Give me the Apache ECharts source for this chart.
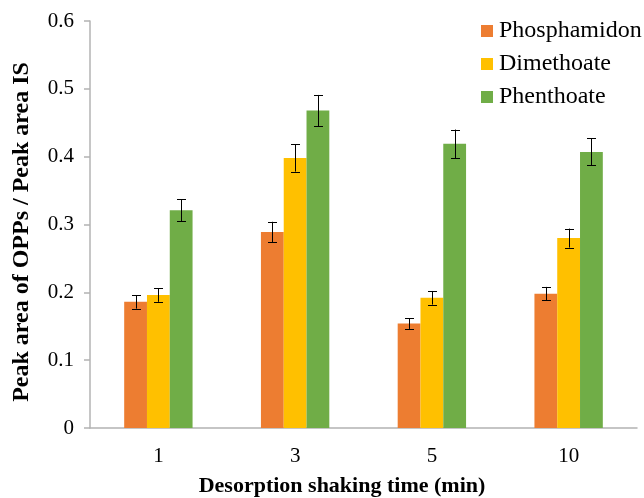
<!DOCTYPE html>
<html>
<head>
<meta charset="utf-8">
<script src="https://cdn.jsdelivr.net/npm/echarts@6/dist/echarts.min.js"></script>
<style>
  html, body { margin: 0; padding: 0; background: #fff; }
  #chart { width: 644px; height: 498px; }
</style>
</head>
<body>
<div id="chart"></div>
<script>
// Shaking times (min)
const categories = ['1', '3', '5', '10'];
const seriesNames = ['Phosphamidon', 'Dimethoate', 'Phenthoate'];

// Mean peak-area ratios (OPP / IS)
const phosphamidon = [0.186, 0.289, 0.154, 0.198];
const dimethoate   = [0.196, 0.398, 0.192, 0.280];
const phenthoate   = [0.321, 0.468, 0.419, 0.407];

// Standard deviations for the error bars
const phosphamidonErr = [0.010, 0.015, 0.008, 0.010];
const dimethoateErr   = [0.010, 0.020, 0.010, 0.014];
const phenthoateErr   = [0.016, 0.023, 0.021, 0.020];

const yTicks = [0, 0.1, 0.2, 0.3, 0.4, 0.5, 0.6];

const colors = ['#ED7D31', '#FFC000', '#70AD47'];
const values = [phosphamidon, dimethoate, phenthoate];
const errors = [phosphamidonErr, dimethoateErr, phenthoateErr];

const FONT = 'Liberation Serif';
const CAT_GAP = 0.5; // fraction of band left empty

function errorSeries(idx) {
  const data = categories.map((c, i) => [i, values[idx][i] - errors[idx][i], values[idx][i] + errors[idx][i]]);
  return {
    type: 'custom',
    name: seriesNames[idx] + ' SD',
    silent: true,
    z: 10,
    data: data,
    encode: { x: 0, y: [1, 2] },
    renderItem: function (params, api) {
      const band = api.size([1, 0])[0];
      const barW = band * (1 - CAT_GAP) / 3;
      const offset = (idx - 1) * barW;
      const lo = api.coord([api.value(0), api.value(1)]);
      const hi = api.coord([api.value(0), api.value(2)]);
      const x = Math.round(lo[0] + offset) + 0.5;
      const cap = 4.5;
      const st = { stroke: '#000', lineWidth: 1, fill: null };
      return {
        type: 'group',
        children: [
          { type: 'line', shape: { x1: x, y1: hi[1], x2: x, y2: lo[1] }, style: st },
          { type: 'line', shape: { x1: x - cap, y1: Math.round(hi[1]) + 0.5, x2: x + cap, y2: Math.round(hi[1]) + 0.5 }, style: st },
          { type: 'line', shape: { x1: x - cap, y1: Math.round(lo[1]) + 0.5, x2: x + cap, y2: Math.round(lo[1]) + 0.5 }, style: st }
        ]
      };
    }
  };
}

const barSeries = seriesNames.map((name, idx) => ({
  type: 'bar',
  name: name,
  data: values[idx],
  itemStyle: { color: colors[idx] },
  barGap: '0%',
  barCategoryGap: (CAT_GAP * 100) + '%'
}));

// Legend key: square swatch + serif label per series, stacked vertically
const legendGraphics = [];
seriesNames.forEach((name, idx) => {
  const cy = 31 + idx * 33;
  legendGraphics.push({
    type: 'rect',
    shape: { x: 481, y: cy - 6, width: 12, height: 12 },
    style: { fill: colors[idx] }
  });
  legendGraphics.push({
    type: 'text',
    x: 499, y: cy,
    style: {
      text: name, fontFamily: FONT, fontSize: 24, fill: '#000',
      align: 'left', verticalAlign: 'middle'
    }
  });
});

const chart = echarts.init(document.getElementById('chart'), null, { renderer: 'canvas' });

chart.setOption({
  animation: false,
  backgroundColor: '#fff',
  textStyle: { fontFamily: FONT, color: '#000' },
  grid: { left: 90, top: 21, width: 547, height: 407, containLabel: false },
  legend: { show: false, data: seriesNames },
  xAxis: {
    type: 'category',
    data: categories,
    axisLine: { show: true, lineStyle: { color: '#b3b3b3', width: 1.5 } },
    axisTick: { show: false },
    axisLabel: { fontFamily: FONT, fontSize: 21, color: '#000', margin: 18 }
  },
  yAxis: {
    type: 'value',
    min: 0,
    max: 0.6,
    interval: 0.1,
    splitLine: { show: false },
    axisLine: { show: true, lineStyle: { color: '#b3b3b3', width: 1.5 } },
    axisTick: { show: true, length: 6, lineStyle: { color: '#b3b3b3', width: 1.5 } },
    axisLabel: {
      fontFamily: FONT, fontSize: 21, color: '#000', margin: 16,
      formatter: function (v) {
        const t = yTicks.find(k => Math.abs(k - v) < 1e-9);
        return t === 0 ? '0' : t.toFixed(1);
      }
    }
  },
  graphic: [
    {
      type: 'text',
      x: 22, y: 232,
      rotation: Math.PI / 2,
      style: {
        text: 'Peak area of OPPs / Peak area IS',
        fontFamily: FONT, fontSize: 24, fontWeight: 'bold', fill: '#000',
        align: 'center', verticalAlign: 'middle'
      }
    },
    {
      type: 'text',
      x: 342, y: 486,
      style: {
        text: 'Desorption shaking time (min)',
        fontFamily: FONT, fontSize: 22, fontWeight: 'bold', fill: '#000',
        align: 'center', verticalAlign: 'middle'
      }
    }
  ].concat(legendGraphics),
  series: barSeries.concat([errorSeries(0), errorSeries(1), errorSeries(2)])
});
</script>
</body>
</html>
